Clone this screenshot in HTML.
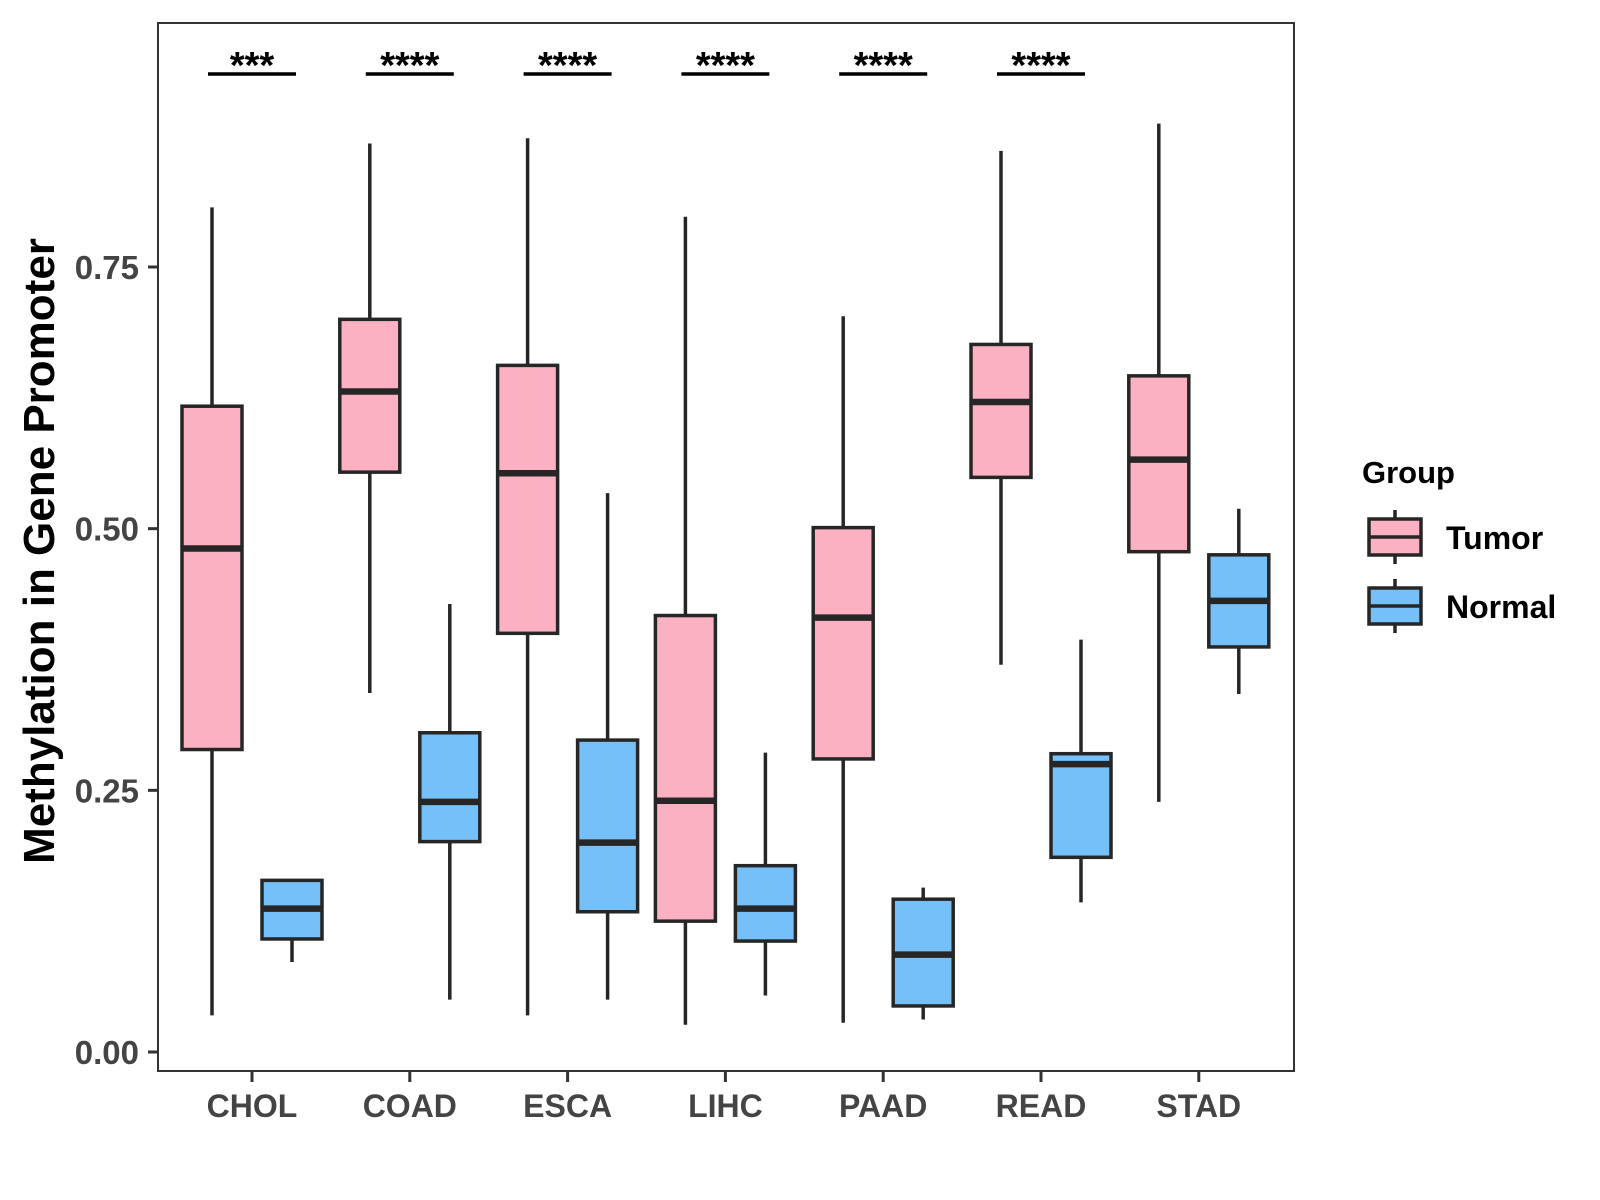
<!DOCTYPE html>
<html><head><meta charset="utf-8"><style>
html,body{margin:0;padding:0;background:#fff;}
svg{display:block;font-family:"Liberation Sans",Arial,sans-serif;font-weight:bold;}
</style></head><body>
<svg id="chart" width="1600" height="1200" viewBox="0 0 1600 1200"></svg>
<script>
const categories = ["CHOL","COAD","ESCA","LIHC","PAAD","READ","STAD"];
const groups = ["Tumor","Normal"];
// [min, q1, median, q3, max]
const tumorStats = [
  [0.035,0.289,0.481,0.617,0.807],
  [0.343,0.554,0.631,0.700,0.868],
  [0.035,0.400,0.553,0.656,0.873],
  [0.026,0.125,0.240,0.417,0.798],
  [0.028,0.280,0.415,0.501,0.703],
  [0.370,0.549,0.621,0.676,0.861],
  [0.239,0.478,0.566,0.646,0.887]
];
const normalStats = [
  [0.086,0.108,0.137,0.164,0.164],
  [0.050,0.201,0.239,0.305,0.428],
  [0.050,0.134,0.200,0.298,0.534],
  [0.054,0.106,0.137,0.178,0.286],
  [0.031,0.044,0.093,0.146,0.157],
  [0.143,0.186,0.275,0.285,0.394],
  [0.342,0.387,0.431,0.475,0.519]
];
const signifLabels = ["***","****","****","****","****","****",""];
const yTicks = [0,0.25,0.5,0.75];
const yTickLabels = ["0.00","0.25","0.50","0.75"];

const NS="http://www.w3.org/2000/svg";
const svg=document.getElementById('chart');
const P={l:158,t:23,r:1301,b:1071};
const y0=1052, pxPerUnit=(1052-267)/0.75;
function yScale(v){return y0 - v*pxPerUnit;}
function xScale(i){return 252 + i*157.8;}
const colors={Tumor:"#FCB1C2",Normal:"#75C0F8"};
const stroke="#262626";
function mk(tag,attrs,parent){const e=document.createElementNS(NS,tag);for(const k in attrs)e.setAttribute(k,attrs[k]);(parent||svg).appendChild(e);return e;}

const panel=mk('rect',{x:P.l,y:P.t,width:P.r-P.l-7,height:P.b-P.t,fill:'#fff',stroke:'#333','stroke-width':2});



yTicks.forEach((v,i)=>{
  const y=yScale(v);
  const t=mk('line',{x1:P.l-10,x2:P.l,y1:y,y2:y,stroke:'#333','stroke-width':3});
  
  
  const l=mk('text',{x:P.l-19,y:y+12,'text-anchor':'end','font-size':33,fill:'#444'});
  l.textContent=yTickLabels[i];
  
  
});
categories.forEach((c,i)=>{
  const x=xScale(i);
  const t=mk('line',{x1:x,x2:x,y1:P.b,y2:P.b+11,stroke:'#333','stroke-width':3});
  
  
  const l=mk('text',{x:x,y:1117,'text-anchor':'middle','font-size':32,fill:'#444'});
  l.textContent=c;
  
  
});

const off=40, hw=30;
function drawBox(cx,s,fill,name){
  const g=mk('g',{});
  
  
  mk('line',{x1:cx,x2:cx,y1:yScale(s[0]),y2:yScale(s[4]),stroke:stroke,'stroke-width':3.5},g);
  mk('rect',{x:cx-hw,y:yScale(s[3]),width:2*hw,height:yScale(s[1])-yScale(s[3]),fill:fill,stroke:stroke,'stroke-width':3.5},g);
  mk('line',{x1:cx-hw,x2:cx+hw,y1:yScale(s[2]),y2:yScale(s[2]),stroke:stroke,'stroke-width':6.5},g);
}
categories.forEach((c,i)=>{
  drawBox(xScale(i)-off,tumorStats[i],colors.Tumor,'box-tumor-'+c.toLowerCase());
  drawBox(xScale(i)+off,normalStats[i],colors.Normal,'box-normal-'+c.toLowerCase());
  if(signifLabels[i]){
    const x=xScale(i);
    const ln=mk('line',{x1:x-44,x2:x+44,y1:74,y2:74,stroke:'#000','stroke-width':3.5});
    
    
    const st=mk('text',{x:x,y:78,'text-anchor':'middle','font-size':38,fill:'#000'});
    st.textContent=signifLabels[i];
    
    
  }
});

const yt=mk('text',{x:0,y:0,transform:'translate(54,551) rotate(-90)','text-anchor':'middle','font-size':44,fill:'#000'});
yt.textContent='Methylation in Gene Promoter';



const lt=mk('text',{x:1362,y:483,'font-size':31,fill:'#000'});
lt.textContent='Group';


groups.forEach((g,i)=>{
  const top=519+i*69;
  const lg=mk('g',{});
  
  
  mk('line',{x1:1395,x2:1395,y1:top-9,y2:top+45,stroke:stroke,'stroke-width':3.5},lg);
  mk('rect',{x:1369,y:top,width:52,height:36,fill:colors[g],stroke:stroke,'stroke-width':3.5},lg);
  mk('line',{x1:1369,x2:1421,y1:top+18,y2:top+18,stroke:stroke,'stroke-width':3.5},lg);
  const tx=mk('text',{x:1446,y:top+30,'font-size':32,fill:'#000'},lg);
  tx.textContent=g;
});
</script>
</body></html>
